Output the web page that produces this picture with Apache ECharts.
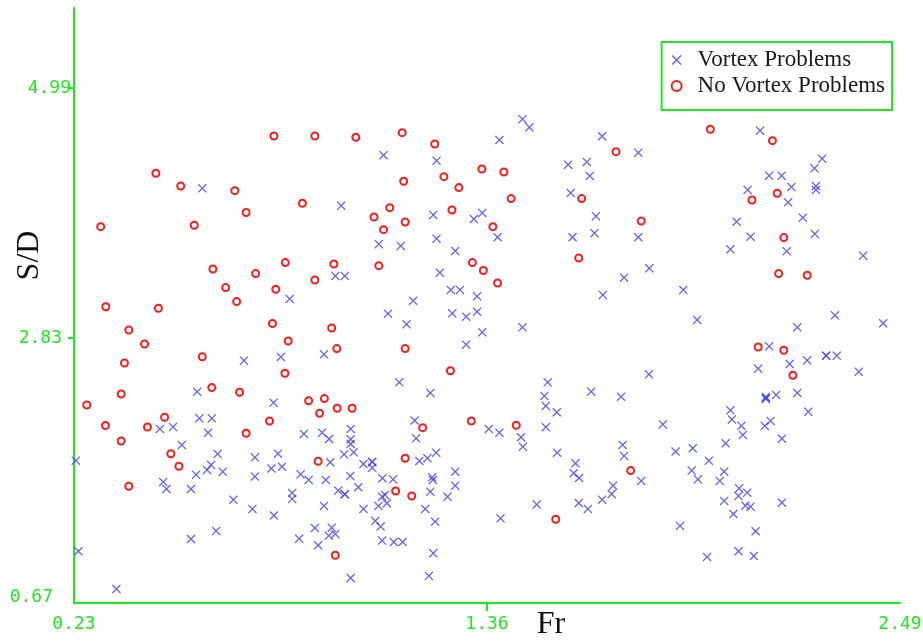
<!DOCTYPE html>
<html>
<head>
<meta charset="utf-8">
<script src="https://cdn.jsdelivr.net/npm/echarts@6/dist/echarts.min.js"></script>
<style>
  html, body { margin: 0; padding: 0; background: #fff; }
  #chart { width: 923px; height: 644px; }
</style>
</head>
<body>
<div id="chart"></div>
<script>
// tick labels
const xTicks = [0.23, 1.36, 2.49];
const yTicks = [0.67, 2.83, 4.99];

// [Fr, S/D]
const vortex = [
  [0.581,4.123],[1.077,4.409],[1.222,4.362],[0.961,3.973],[1.213,3.893],[1.347,3.910],[1.324,3.858],[1.457,4.720],
  [1.476,4.650],[1.394,4.541],[1.675,4.573],[1.774,4.431],[1.582,4.327],[1.633,4.351],[1.641,4.230],[1.589,4.083],
  [1.658,3.882],[2.107,4.621],[2.277,4.379],[2.256,4.296],[2.132,4.232],[2.166,4.232],[2.193,4.135],[2.260,4.143],
  [2.260,4.109],[2.073,4.109],[2.184,4.002],[2.224,3.869],
  [0.695,2.634],[0.567,2.366],[0.776,2.271],[0.573,2.136],[0.607,2.136],[0.465,2.044],[0.501,2.061],[0.796,2.666],
  [1.064,3.640],[1.124,3.625],[1.222,3.688],[1.273,3.582],[1.231,3.394],[0.945,3.366],[0.971,3.366],[0.820,3.167],
  [1.261,3.245],[1.286,3.245],[1.333,3.190],[1.158,3.152],[1.089,3.040],[1.265,3.043],[1.303,3.014],[1.333,3.057],
  [1.140,2.948],[1.347,2.879],[0.914,2.689],[1.303,2.772],[1.120,2.447],[1.205,2.355],[1.162,2.117],
  [1.389,3.700],[1.654,3.735],[1.594,3.700],[1.774,3.700],[1.804,3.432],[1.735,3.351],[1.677,3.202],[1.897,3.245],
  [1.935,2.986],[1.457,2.922],[1.803,2.516],[1.526,2.447],[1.517,2.329],[1.521,2.243],[1.551,2.188],[1.645,2.366],
  [1.727,2.323],[1.841,2.083],[1.521,2.059],
  [2.043,3.835],[2.081,3.705],[2.257,3.729],[2.026,3.596],[2.180,3.579],[2.389,3.541],[2.312,3.026],[2.209,2.922],
  [2.444,2.957],[2.132,2.758],[2.288,2.677],[2.288,2.677],[2.317,2.677],[2.236,2.637],[2.188,2.605],[2.102,2.565],
  [2.377,2.539],[2.123,2.320],[2.123,2.312],[2.123,2.303],[2.151,2.338],[2.209,2.355],[2.239,2.193],[2.026,2.205],
  [2.030,2.126],[2.056,2.071],[2.136,2.113],[2.120,2.070],
  [0.597,2.012],[0.525,1.906],[0.623,1.828],[0.725,1.799],[0.788,1.830],[0.235,1.770],[0.605,1.733],[0.594,1.690],
  [0.637,1.675],[0.564,1.649],[0.770,1.703],[0.725,1.632],[0.474,1.586],[0.483,1.525],[0.550,1.525],[0.666,1.433],
  [0.718,1.353],[0.777,1.296],[0.619,1.163],[0.550,1.093],[0.242,0.987],[0.346,0.661],
  [0.859,2.001],[0.909,2.012],[0.928,1.957],[0.987,2.044],[0.987,1.955],[0.987,1.914],[1.166,1.963],[0.799,1.718],
  [0.931,1.756],[0.969,1.825],[0.995,1.842],[1.022,1.741],[1.046,1.759],[1.046,1.759],[1.046,1.709],[1.175,1.767],
  [1.197,1.791],[1.221,1.839],[0.850,1.652],[0.872,1.603],[0.919,1.603],[0.986,1.638],[1.074,1.618],[1.103,1.609],
  [1.210,1.626],[1.212,1.603],[1.273,1.675],[1.273,1.554],[0.827,1.491],[0.827,1.439],[0.953,1.511],[0.971,1.480],
  [0.971,1.480],[1.008,1.540],[1.205,1.502],[1.252,1.459],[1.073,1.459],[1.081,1.474],[1.086,1.402],[1.063,1.379],
  [0.914,1.379],[1.022,1.353],[1.191,1.353],[1.218,1.243],[1.054,1.249],[1.069,1.200],[0.889,1.188],[0.935,1.191],
  [0.927,1.122],[0.945,1.137],[0.846,1.096],[0.898,1.039],[1.073,1.079],[1.105,1.067],[1.129,1.067],[1.213,0.970],
  [0.987,0.756],[1.201,0.774],
  [1.365,2.044],[1.394,2.012],[1.453,1.972],[1.458,1.891],[1.552,1.839],[1.731,1.906],[1.735,1.811],[1.876,1.848],
  [1.923,1.877],[1.602,1.747],[1.597,1.661],[1.612,1.620],[1.782,1.595],[1.920,1.684],[1.937,1.609],[1.705,1.554],
  [1.701,1.482],[1.675,1.433],[1.611,1.404],[1.636,1.353],[1.496,1.390],[1.397,1.272],[1.888,1.206],
  [2.060,1.992],[2.167,1.960],[2.013,1.920],[1.967,1.770],[2.009,1.675],[1.997,1.595],[2.050,1.531],[2.072,1.493],
  [2.048,1.465],[2.009,1.422],[2.067,1.381],[2.081,1.372],[2.167,1.407],[2.034,1.309],[2.095,1.160],[2.048,0.987],
  [2.090,0.946],[1.962,0.938]
];

const noVortex = [
  [0.777,4.575],[0.454,4.253],[0.522,4.143],[0.670,4.103],[0.701,3.914],[0.889,4.575],[1.001,4.564],[1.128,4.604],
  [1.217,4.506],[1.346,4.290],[1.242,4.224],[1.132,4.184],[1.283,4.129],[0.855,3.994],[1.094,3.956],[1.051,3.875],
  [1.136,3.832],[1.264,3.936],[1.713,4.440],[1.406,4.264],[1.426,4.034],[1.619,4.034],[1.782,3.841],[1.971,4.633],
  [2.141,4.535],[2.085,4.022],[2.154,4.080],
  [0.303,3.792],[0.559,3.804],[0.610,3.426],[0.727,3.386],[0.645,3.265],[0.782,3.251],[0.675,3.144],[0.317,3.100],
  [0.461,3.087],[0.773,2.955],[0.380,2.899],[0.423,2.778],[0.581,2.668],[0.368,2.614],[0.607,2.401],[0.683,2.361],
  [0.359,2.346],[0.265,2.251],[0.765,2.113],[0.478,2.145],[0.316,2.074],[0.431,2.061],
  [1.376,3.792],[1.077,3.766],[0.808,3.481],[0.941,3.469],[1.064,3.455],[1.320,3.481],[1.350,3.413],[0.889,3.331],
  [0.935,2.916],[0.816,2.804],[0.949,2.738],[1.136,2.738],[1.260,2.547],[0.807,2.525],[0.872,2.288],[0.915,2.306],
  [0.902,2.179],[0.950,2.223],[0.991,2.223],[1.184,2.055],[1.317,2.113],
  [1.611,3.521],[1.389,3.305],[1.440,2.076],[2.172,3.697],[2.158,3.386],[2.236,3.372],[2.102,2.752],[2.172,2.724],
  [2.197,2.508],
  [0.359,1.940],[0.701,2.007],[0.495,1.830],[0.517,1.722],[0.380,1.549],[0.898,1.765],[1.136,1.791],[1.110,1.508],
  [1.154,1.465],[0.945,0.953],[1.753,1.684],[1.548,1.264]
];

var GREEN = '#1ee81e';
var chart = echarts.init(document.getElementById('chart'));
// little "x" marker, filled so the legend shows it too
var crossSymbol = 'path://M0,1L1,0L5,4L9,0L10,1L6,5L10,9L9,10L5,6L1,10L0,9L4,5Z';

var tickFont = { color: GREEN, fontFamily: 'DejaVu Sans Mono', fontSize: 18 };

var option = {
  animation: false,
  grid: { left: 74, right: 23, top: 8, bottom: 41, containLabel: false, outerBoundsMode: 'none' },
  legend: {
    orient: 'vertical',
    right: 31,
    top: 42,
    padding: [5, 7, 11, 9],
    itemGap: 0,
    itemWidth: 10,
    itemHeight: 10,
    borderColor: GREEN,
    borderWidth: 2,
    textStyle: {
      fontFamily: 'Liberation Serif',
      fontSize: 23,
      color: '#1a1a1a',
      lineHeight: 26,
      padding: [0, 0, 0, 11]
    },
    data: ['Vortex Problems', 'No Vortex Problems']
  },
  xAxis: {
    type: 'value',
    min: 0.23,
    max: 2.49,
    name: 'Fr',
    nameLocation: 'middle',
    nameGap: 6,
    nameMoveOverlap: false,
    nameTextStyle: {
      fontFamily: 'Liberation Serif',
      fontSize: 32,
      color: '#111',
      padding: [0, 0, 0, 128]
    },
    axisLine: { onZero: false, lineStyle: { color: GREEN, width: 2 } },
    axisTick: { show: true, customValues: [1.36], length: 8, lineStyle: { color: GREEN, width: 2 } },
    axisLabel: Object.assign({
      customValues: xTicks,
      margin: 12,
      formatter: function (v) { return v.toFixed(2); }
    }, tickFont),
    splitLine: { show: false }
  },
  yAxis: {
    type: 'value',
    min: 0.54,
    max: 5.681,
    name: 'S/D',
    nameLocation: 'middle',
    nameRotate: 90,
    nameGap: 28,
    nameMoveOverlap: false,
    nameTextStyle: {
      fontFamily: 'Liberation Serif',
      fontSize: 32,
      color: '#111',
      padding: [0, 0, 0, 100]
    },
    axisLine: { onZero: false, lineStyle: { color: GREEN, width: 2 } },
    axisTick: { show: true, customValues: [2.83, 4.99], length: 6, lineStyle: { color: GREEN, width: 2 } },
    axisLabel: Object.assign({
      customValues: yTicks,
      margin: 2,
      formatter: function (v) {
        // the original staggers its y labels a little
        var k = v < 1 ? 'lo' : (v < 4 ? 'mid' : 'hi');
        return '{' + k + '|' + v.toFixed(2) + '}';
      },
      rich: {
        lo: Object.assign({ padding: [18, 19, 0, 0] }, tickFont),
        mid: Object.assign({ padding: [0, 10, 0, 0] }, tickFont),
        hi: Object.assign({ padding: [0, 1, 0, 0] }, tickFont)
      }
    }, tickFont),
    splitLine: { show: false }
  },
  series: [
    {
      name: 'Vortex Problems',
      type: 'scatter',
      data: vortex,
      symbol: crossSymbol,
      symbolSize: 9,
      itemStyle: { color: '#3a3aff' }
    },
    {
      name: 'No Vortex Problems',
      type: 'scatter',
      data: noVortex,
      symbol: 'circle',
      symbolSize: 7,
      itemStyle: { color: '#ffffff', borderColor: '#ff1a1a', borderWidth: 2, opacity: 1 }
    }
  ]
};
chart.setOption(option);
</script>
</body>
</html>
